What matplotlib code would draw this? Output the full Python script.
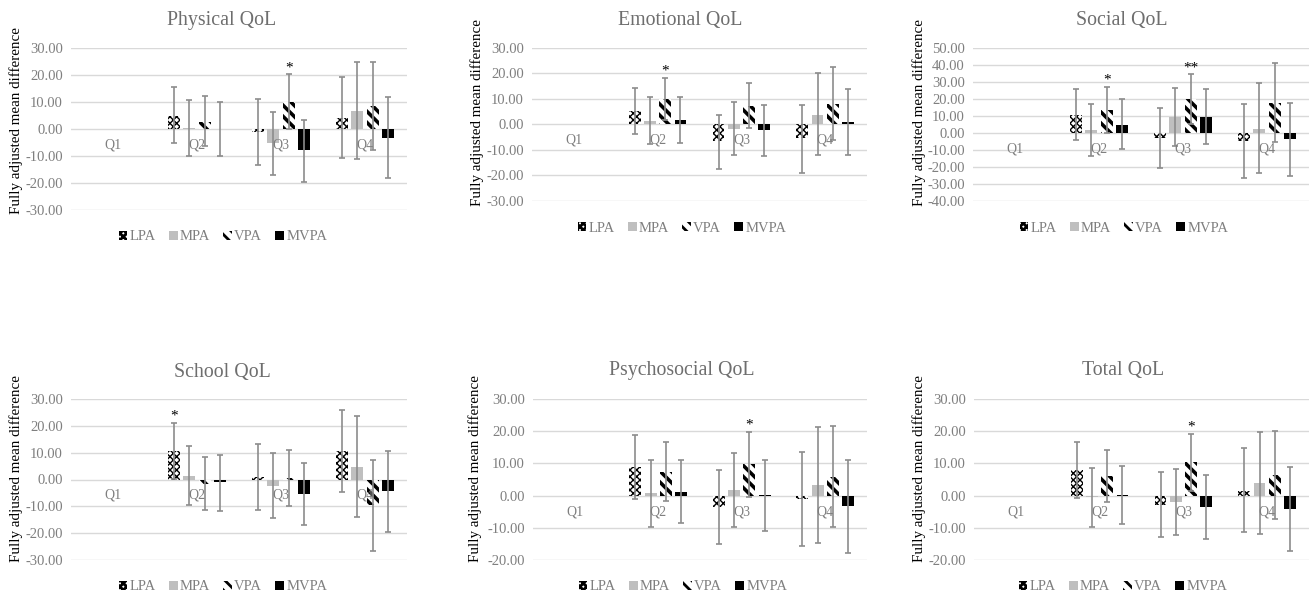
import numpy as np
import matplotlib
matplotlib.use("Agg")
import matplotlib.pyplot as plt
from matplotlib.patches import Patch
from matplotlib.ticker import MultipleLocator, FormatStrFormatter

plt.rcParams['font.family'] = ['Liberation Serif', 'DejaVu Serif']
plt.rcParams['hatch.linewidth'] = 2.0

nan = np.nan
quartiles = ['Q1', 'Q2', 'Q3', 'Q4']
series = ['LPA', 'MPA', 'VPA', 'MVPA']

# rows: LPA, MPA, VPA, MVPA ; columns: Q1..Q4 (Q1 = reference)
physical_mean = [[0, 4.9, -1.2, 4.0], [0, 0.3, -5.2, 6.7], [0, 2.7, 10.0, 8.3], [0, 0.0, -8.0, -3.3]]
physical_lo = [[nan, -5.3, -13.3, -10.9], [nan, -10.0, -17.0, -11.2], [nan, -6.5, 0.0, -8.0], [nan, -10.0, -19.5, -18.3]]
physical_hi = [[nan, 15.3, 11.0, 19.1], [nan, 10.7, 6.4, 24.7], [nan, 12.0, 20.2, 24.6], [nan, 10.1, 3.3, 11.6]]

emotional_mean = [[0, 5.2, -6.7, -5.6], [0, 1.4, -1.7, 3.8], [0, 9.9, 7.2, 8.0], [0, 1.6, -2.3, 0.7]]
emotional_lo = [[nan, -3.7, -17.4, -19.0], [nan, -7.8, -12.1, -12.2], [nan, 1.5, -1.5, -6.0], [nan, -7.2, -12.4, -12.2]]
emotional_hi = [[nan, 14.2, 3.8, 7.4], [nan, 10.7, 8.8, 20.0], [nan, 18.3, 16.3, 22.4], [nan, 10.7, 7.5, 13.7]]

social_mean = [[0, 10.5, -3.0, -4.8], [0, 1.3, 9.4, 2.3], [0, 13.3, 19.8, 17.6], [0, 4.5, 9.0, -3.8]]
social_lo = [[nan, -4.3, -21.0, -26.9], [nan, -13.7, -7.6, -24.0], [nan, -0.4, 5.0, -5.3], [nan, -9.6, -6.7, -25.3]]
social_hi = [[nan, 25.5, 14.3, 16.9], [nan, 16.7, 26.5, 29.0], [nan, 27.0, 34.5, 40.8], [nan, 19.6, 25.5, 17.3]]

school_mean = [[0, 10.7, 0.8, 10.6], [0, 1.2, -2.3, 4.8], [0, -1.6, 0.6, -9.5], [0, -1.1, -5.5, -4.4]]
school_lo = [[nan, 0.2, -11.3, -4.7], [nan, -9.4, -14.4, -13.8], [nan, -11.5, -9.7, -26.5], [nan, -11.6, -17.1, -19.6]]
school_hi = [[nan, 21.2, 13.3, 26.0], [nan, 12.3, 9.8, 23.5], [nan, 8.2, 11.1, 7.1], [nan, 9.2, 6.1, 10.8]]

psychosocial_mean = [[0, 8.9, -3.5, -1.0], [0, 0.7, 1.6, 3.4], [0, 7.3, 9.8, 5.9], [0, 1.2, 0.05, -3.3]]
psychosocial_lo = [[nan, -1.0, -15.1, -15.5], [nan, -9.6, -9.9, -14.6], [nan, -1.7, -0.3, -9.8], [nan, -8.6, -11.0, -17.9]]
psychosocial_hi = [[nan, 18.8, 8.0, 13.4], [nan, 11.0, 13.1, 21.4], [nan, 16.6, 19.9, 21.6], [nan, 11.1, 11.1, 11.1]]

total_mean = [[0, 8.1, -2.8, 1.5], [0, -0.4, -2.1, 3.8], [0, 6.1, 10.3, 6.4], [0, 0.1, -3.6, -4.1]]
total_lo = [[nan, -0.6, -13.0, -11.2], [nan, -9.6, -12.3, -12.0], [nan, -1.9, 1.4, -7.2], [nan, -8.9, -13.6, -17.2]]
total_hi = [[nan, 16.8, 7.3, 14.7], [nan, 8.7, 8.2, 19.7], [nan, 14.2, 19.2, 20.1], [nan, 9.2, 6.3, 9.0]]

# significance marks: (series index, quartile index, text)
physical_sig = [(2, 2, '*')]
emotional_sig = [(2, 1, '*')]
social_sig = [(2, 1, '*'), (2, 2, '**')]
school_sig = [(0, 1, '*')]
psychosocial_sig = [(2, 2, '*')]
total_sig = [(2, 2, '*')]

W, H = 1309, 595
fig = plt.figure(figsize=(W / 100, H / 100), dpi=100)

styles = [
    dict(facecolor='white', edgecolor='black', hatch='xxxxx', hlw=1.0),
    dict(facecolor='#bfbfbf', edgecolor='#bfbfbf', hatch=None, hlw=1.0),
    dict(facecolor='white', edgecolor='black', hatch='\\\\\\', hlw=2.6),
    dict(facecolor='black', edgecolor='black', hatch=None, hlw=1.0),
]


def style_patch(p, st):
    if hasattr(p, 'set_hatch_linewidth'):
        p.set_hatch_linewidth(st['hlw'])


# panel: title, data, ylim, axes box in px (x0, x1, ytop, ybottom), title/ylabel/legend px positions
panels = [
    ("Physical QoL", physical_mean, physical_lo, physical_hi, physical_sig, (-30, 30),
     (71, 407, 47.7, 210), (222, 20), (16, 121), (223, 237)),
    ("Emotional QoL", emotional_mean, emotional_lo, emotional_hi, emotional_sig, (-30, 30),
     (532, 867, 47.7, 200.7), (680, 20), (477, 112), (682, 228)),
    ("Social QoL", social_mean, social_lo, social_hi, social_sig, (-40, 50),
     (973, 1309, 47.7, 200.7), (1122, 20), (919, 112), (1124, 228)),
    ("School QoL", school_mean, school_lo, school_hi, school_sig, (-30, 30),
     (71, 407, 399, 560), (222, 372), (16, 469), (223, 587)),
    ("Psychosocial QoL", psychosocial_mean, psychosocial_lo, psychosocial_hi, psychosocial_sig, (-20, 30),
     (533, 867, 399, 560), (682, 371), (475, 469), (683, 587)),
    ("Total QoL", total_mean, total_lo, total_hi, total_sig, (-20, 30),
     (974, 1309, 399, 560), (1123, 371), (919, 469), (1123, 587)),
]

x = np.arange(len(quartiles))
step = 0.182
bw = 0.143
grey_txt = '#7f7f7f'

for title, mean, lo, hi, sig, ylim, box, tpos, ypos, lpos in panels:
    x0, x1, yt, yb = box
    ax = fig.add_axes([x0 / W, 1 - yb / H, (x1 - x0) / W, (yb - yt) / H])
    mean = np.array(mean, dtype=float)
    lo = np.array(lo, dtype=float)
    hi = np.array(hi, dtype=float)
    for i, s in enumerate(series):
        xs = x + (i - 1.5) * step
        st = styles[i]
        bars = ax.bar(xs, mean[i], bw, facecolor=st['facecolor'], edgecolor=st['edgecolor'],
                      hatch=st['hatch'], linewidth=0, zorder=2)
        for b in bars:
            style_patch(b, st)
        err = np.vstack([mean[i] - lo[i], hi[i] - mean[i]])
        ax.errorbar(xs, mean[i], yerr=err, fmt='none', ecolor='#8c8c8c', elinewidth=1.2,
                    capsize=2.5, capthick=1.2, zorder=3)
    for si, qi, txt in sig:
        ax.annotate(txt, (x[qi] + (si - 1.5) * step, hi[si, qi]), xytext=(0, 0),
                    textcoords='offset points', ha='center', va='bottom', fontsize=11)
    for qi, q in enumerate(quartiles):
        ax.annotate(q, (x[qi], 0), xytext=(0, -11.5), textcoords='offset points',
                    ha='center', va='center', fontsize=10, color=grey_txt, zorder=4)
    ax.set_xlim(-0.5, 3.5)
    ax.set_ylim(*ylim)
    ax.yaxis.set_major_locator(MultipleLocator(10))
    ax.yaxis.set_major_formatter(FormatStrFormatter('%.2f'))
    ax.grid(axis='y', color='#d9d9d9', linewidth=1, zorder=0)
    ax.set_axisbelow(True)
    ax.set_xticks([])
    ax.tick_params(axis='y', length=0, labelsize=10.5, labelcolor=grey_txt, pad=6)
    for sp in ax.spines.values():
        sp.set_visible(False)
    fig.text(tpos[0] / W, 1 - tpos[1] / H, title, ha='center', va='center',
             fontsize=14.3, color='#6e6e6e')
    fig.text(ypos[0] / W, 1 - ypos[1] / H, "Fully adjusted mean difference", rotation=90,
             ha='center', va='center', fontsize=10.8, color='black')
    handles = []
    for st in styles:
        p = Patch(facecolor=st['facecolor'], edgecolor=st['edgecolor'], hatch=st['hatch'], linewidth=0)
        style_patch(p, st)
        handles.append(p)
    leg = fig.legend(handles, series, loc='center', bbox_to_anchor=(lpos[0] / W, 1 - lpos[1] / H),
                     ncol=4, frameon=False, fontsize=10.5, handlelength=0.6, handleheight=0.6,
                     handletextpad=0.15, columnspacing=0.9, borderpad=0)
    for t in leg.get_texts():
        t.set_color(grey_txt)

fig.savefig("out.png", dpi=100)
